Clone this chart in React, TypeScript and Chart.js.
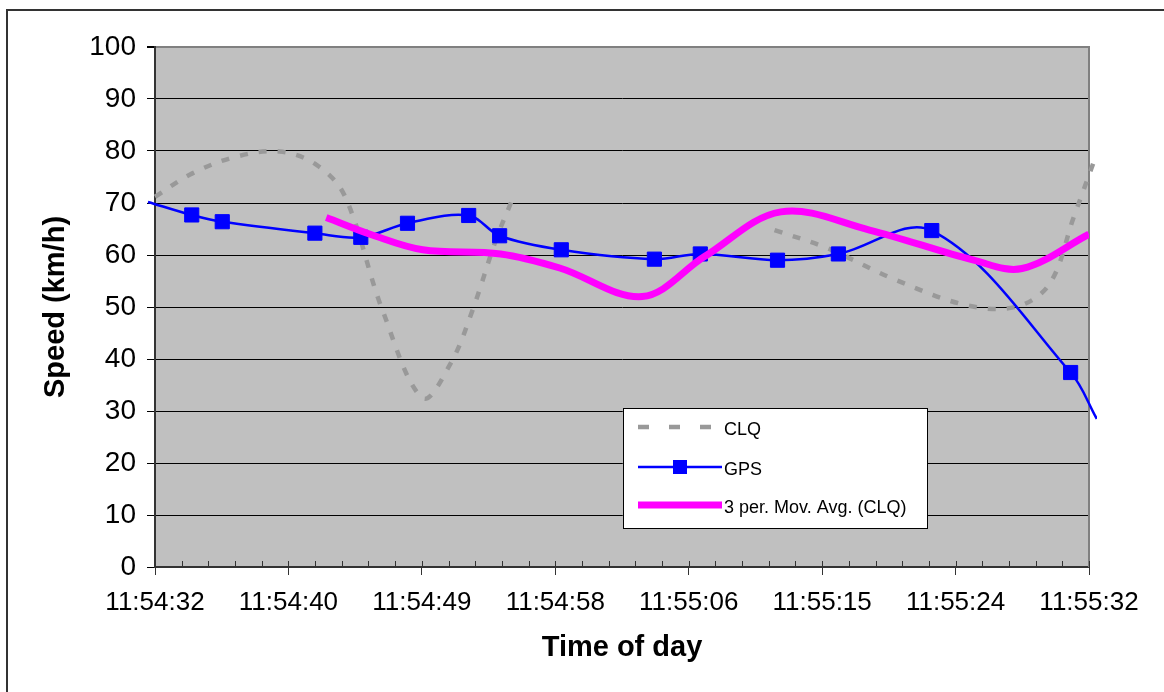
import React, { useEffect, useRef } from "react";
import { Chart, registerables } from "chart.js";

Chart.register(...registerables);

// X axis: seconds after 11:54:32 (axis spans one minute, 7 major intervals)
const xTickLabels = ["11:54:32", "11:54:40", "11:54:49", "11:54:58", "11:55:06", "11:55:15", "11:55:24", "11:55:32"];
const xMin = 0;
const xMax = 60;
const minorPerMajor = 5;

const yMin = 0;
const yMax = 100;
const yStep = 10;

const seriesNames = ["CLQ", "GPS", "3 per. Mov. Avg. (CLQ)"];

// CLQ speed (km/h); null = missing readings
const clqTime = [0, 2.4, 5.2, 8.0, 10.4, 12.2, 14.6, 17.2, 19.0, 20.4, 21.9, 22.9, 31.0, 39.8, 43.2, 47.6, 52.2, 55.4, 57.5, 59.0, 60.5];
const clqSpeed = [71.2, 75.7, 78.9, 79.9, 77.3, 71.3, 49.5, 32.5, 39.2, 49.4, 62.9, 70.3, null, 64.8, 61.3, 55.2, 50.3, 50.1, 54.6, 67.1, 79.5];

// GPS speed (km/h)
const gpsTime = [-0.45, 2.36, 4.32, 10.27, 13.22, 16.22, 20.15, 22.14, 26.1, 32.08, 35.03, 39.99, 43.9, 49.9, 58.82, 60.5];
const gpsSpeed = [70.2, 67.7, 66.4, 64.2, 63.4, 66.1, 67.6, 63.7, 61.0, 59.2, 60.2, 59.0, 60.2, 64.7, 37.4, 28.5];

// 3 period moving average of CLQ (km/h)
const maTime = [11.0, 14.0, 17.2, 22.2, 26.0, 31.3, 35.3, 40.2, 45.9, 52.6, 55.7, 60.0];
const maSpeed = [67.2, 63.8, 61.0, 60.2, 57.5, 52.0, 59.7, 68.3, 64.8, 59.0, 57.4, 64.0];

const FONT = "'Liberation Sans', Arial, Helvetica, sans-serif";

const toPoints = (xs: number[], ys: (number | null)[]) => xs.map((x, i) => ({ x, y: ys[i] }));

const decorPlugin = {
  id: "decor",
  beforeDraw(chart: any) {
    const { ctx, chartArea: a, width, height } = chart;
    ctx.save();
    ctx.fillStyle = "#ffffff";
    ctx.fillRect(0, 0, width, height);
    ctx.strokeStyle = "#333333";
    ctx.lineWidth = 2;
    ctx.strokeRect(7, 10, width, height);
    ctx.fillStyle = "#C0C0C0";
    ctx.fillRect(a.left, a.top, a.right - a.left, a.bottom - a.top);
    ctx.restore();
  },
  beforeDatasetsDraw(chart: any) {
    const { ctx, chartArea: a } = chart;
    const xs = chart.scales.x;
    ctx.save();
    // right border of plot area
    ctx.strokeStyle = "#808080";
    ctx.lineWidth = 2;
    ctx.beginPath();
    ctx.moveTo(a.right, a.top - 1);
    ctx.lineTo(a.right, a.bottom);
    ctx.stroke();
    // inside tick marks on x axis
    ctx.strokeStyle = "#333333";
    ctx.lineWidth = 1;
    xs.ticks.forEach((t: any) => {
      const px = Math.round(xs.getPixelForValue(t.value)) + 0.5;
      ctx.beginPath();
      ctx.moveTo(px, a.bottom);
      ctx.lineTo(px, a.bottom - 6);
      ctx.stroke();
    });
    ctx.restore();
  },
  afterDraw(chart: any) {
    const { ctx } = chart;
    const box = { left: 623, top: 408, width: 304, height: 120 };
    const rows = [427, 467, 505];
    const sx0 = 638;
    const sx1 = 722;
    ctx.save();
    ctx.fillStyle = "#ffffff";
    ctx.fillRect(box.left, box.top, box.width, box.height);
    ctx.strokeStyle = "#000000";
    ctx.lineWidth = 1;
    ctx.strokeRect(box.left + 0.5, box.top + 0.5, box.width, box.height);
    chart.data.datasets.forEach((ds: any, i: number) => {
      const y = rows[i];
      ctx.save();
      ctx.strokeStyle = ds.borderColor;
      ctx.lineWidth = i === 2 ? 7 : ds.borderWidth;
      ctx.setLineDash(i === 0 ? [11, 20] : []);
      ctx.beginPath();
      ctx.moveTo(sx0, y);
      ctx.lineTo(sx1, y);
      ctx.stroke();
      ctx.restore();
      if (i === 1) {
        ctx.fillStyle = ds.backgroundColor;
        ctx.fillRect((sx0 + sx1) / 2 - 7, y - 7, 14, 14);
      }
      ctx.fillStyle = "#000000";
      ctx.font = `18px ${FONT}`;
      ctx.textBaseline = "middle";
      ctx.textAlign = "left";
      ctx.fillText(ds.label, sx1 + 2, y + 3);
    });
    ctx.restore();
  },
};

export default function App() {
  const ref = useRef<HTMLCanvasElement | null>(null);

  useEffect(() => {
    if (!ref.current) return;
    const nTicks = (xTickLabels.length - 1) * minorPerMajor;
    const clip = { left: 8, right: 8, top: 0, bottom: 0 };
    const chart = new Chart(ref.current, {
      type: "line",
      data: {
        datasets: [
          {
            label: seriesNames[0],
            data: toPoints(clqTime, clqSpeed),
            borderColor: "#999999",
            backgroundColor: "#999999",
            borderWidth: 4.5,
            borderDash: [8, 11],
            pointRadius: 0,
            tension: 0.35,
            spanGaps: false,
            clip,
            order: 3,
          },
          {
            label: seriesNames[1],
            data: toPoints(gpsTime, gpsSpeed),
            borderColor: "#0000FF",
            backgroundColor: "#0000FF",
            borderWidth: 2.5,
            pointStyle: "rect",
            pointRadius: (c: any) => (c.raw && (c.raw.x < xMin || c.raw.x > xMax) ? 0 : 10),
            pointBorderColor: "#0000FF",
            pointBackgroundColor: "#0000FF",
            pointBorderWidth: 1,
            tension: 0.35,
            clip,
            order: 2,
          },
          {
            label: seriesNames[2],
            data: toPoints(maTime, maSpeed),
            borderColor: "#FF00FF",
            backgroundColor: "#FF00FF",
            borderWidth: 7,
            pointRadius: 0,
            tension: 0.35,
            clip: 0,
            order: 1,
          },
        ] as any,
      },
      options: {
        responsive: false,
        animation: false,
        devicePixelRatio: 1,
        events: [],
        layout: { padding: { top: 47, right: 75, left: 0, bottom: 0 } },
        elements: { line: { capBezierPoints: false, borderCapStyle: "butt" } },
        plugins: { legend: { display: false }, tooltip: { enabled: false } },
        scales: {
          x: {
            type: "linear",
            min: xMin,
            max: xMax,
            afterBuildTicks: (scale: any) => {
              scale.ticks = Array.from({ length: nTicks + 1 }, (_, i) => ({
                value: xMin + (i * (xMax - xMin)) / nTicks,
              }));
            },
            afterFit: (scale: any) => {
              scale.height = 125;
            },
            ticks: {
              autoSkip: false,
              maxRotation: 0,
              minRotation: 0,
              padding: 12,
              color: "#000000",
              font: { family: FONT, size: 26 },
              callback: (_v: any, i: number) => (i % minorPerMajor === 0 ? xTickLabels[i / minorPerMajor] : ""),
            },
            grid: {
              drawOnChartArea: false,
              drawTicks: true,
              tickLength: 8,
              tickWidth: 1,
              tickColor: (c: any) => (c.index % minorPerMajor === 0 ? "#333333" : "rgba(0,0,0,0)"),
            },
            border: { display: true, color: "#333333", width: 2 },
            title: {
              display: true,
              text: "Time of day",
              color: "#000000",
              font: { family: FONT, size: 29, weight: "bold" },
              padding: { top: 0, bottom: 27 },
            },
          },
          y: {
            min: yMin,
            max: yMax,
            afterFit: (scale: any) => {
              scale.width = 155;
            },
            ticks: {
              stepSize: yStep,
              padding: 11,
              color: "#000000",
              font: { family: FONT, size: 28 },
            },
            grid: {
              color: (c: any) => (c.tick && c.tick.value === yMax ? "#808080" : "#000000"),
              lineWidth: (c: any) => (c.tick && c.tick.value === yMax ? 2 : 1),
              tickLength: 8,
              tickColor: "#000000",
              drawTicks: true,
            },
            border: { display: true, color: "#333333", width: 2 },
            title: {
              display: true,
              text: "Speed (km/h)",
              color: "#000000",
              font: { family: FONT, size: 29, weight: "bold" },
              padding: { top: 39, bottom: 0 },
            },
          },
        },
      } as any,
      plugins: [decorPlugin],
    });
    return () => chart.destroy();
  }, []);

  return (
    <div style={{ position: "absolute", left: 0, top: 0, width: 1164, height: 692 }}>
      <canvas ref={ref} width={1164} height={692} style={{ display: "block" }} />
    </div>
  );
}
